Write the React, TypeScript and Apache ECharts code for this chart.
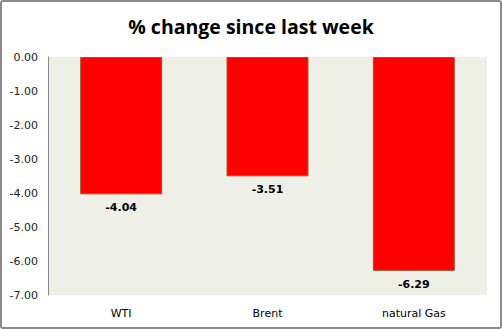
import React, { useEffect, useRef } from "react";
import * as echarts from "echarts";

const categories = ["WTI", "Brent", "natural Gas"];
const values = [-4.04, -3.51, -6.29];
const titleText = "% change since last week";

export default function App() {
  const ref = useRef<HTMLDivElement>(null);
  useEffect(() => {
    document.body.style.margin = "0";
    const chart = echarts.init(ref.current!, null, { renderer: "svg" });
    chart.setOption({
      animation: false,
      backgroundColor: "#ffffff",
      title: {
        text: titleText,
        left: "center",
        top: 11,
        textStyle: { fontFamily: "Open Sans", fontWeight: "bold", fontSize: 19.5, color: "#000" },
      },
      grid: { left: 48, right: 15, top: 57, bottom: 34, show: true, backgroundColor: "#EEF0E8", borderWidth: 0 },
      xAxis: {
        type: "category",
        data: categories,
        position: "bottom",
        axisLine: { show: false },
        axisTick: { show: false },
        axisLabel: { fontFamily: "DejaVu Sans", fontSize: 11, color: "#000", margin: 13 },
      },
      yAxis: {
        type: "value",
        min: -7,
        max: 0,
        interval: 1,
        axisLine: { show: true, lineStyle: { color: "#888888", width: 1 } },
        axisTick: { show: false },
        splitLine: { show: false },
        axisLabel: {
          fontFamily: "DejaVu Sans",
          fontSize: 11,
          color: "#222",
          margin: 10,
          formatter: (v: number) => v.toFixed(2),
        },
      },
      series: [
        {
          type: "bar",
          data: values,
          barWidth: "56%",
          itemStyle: { color: "#FF0000", borderColor: "#A0522D", borderWidth: 1 },
          label: {
            show: true,
            position: "bottom",
            distance: 8,
            fontFamily: "DejaVu Sans",
            fontWeight: "bold",
            fontSize: 11,
            color: "#000",
            formatter: (p: any) => p.value.toFixed(2),
          },
        },
      ],
    });
    return () => chart.dispose();
  }, []);
  return (
    <div
      style={{
        position: "absolute",
        left: 0,
        top: 0,
        width: 502,
        height: 329,
        boxSizing: "border-box",
        border: "2px solid #8a8a8a",
        borderRadius: 3,
        overflow: "hidden",
      }}
    >
      <div ref={ref} style={{ position: "absolute", left: -2, top: -2, width: 502, height: 329 }} />
    </div>
  );
}
